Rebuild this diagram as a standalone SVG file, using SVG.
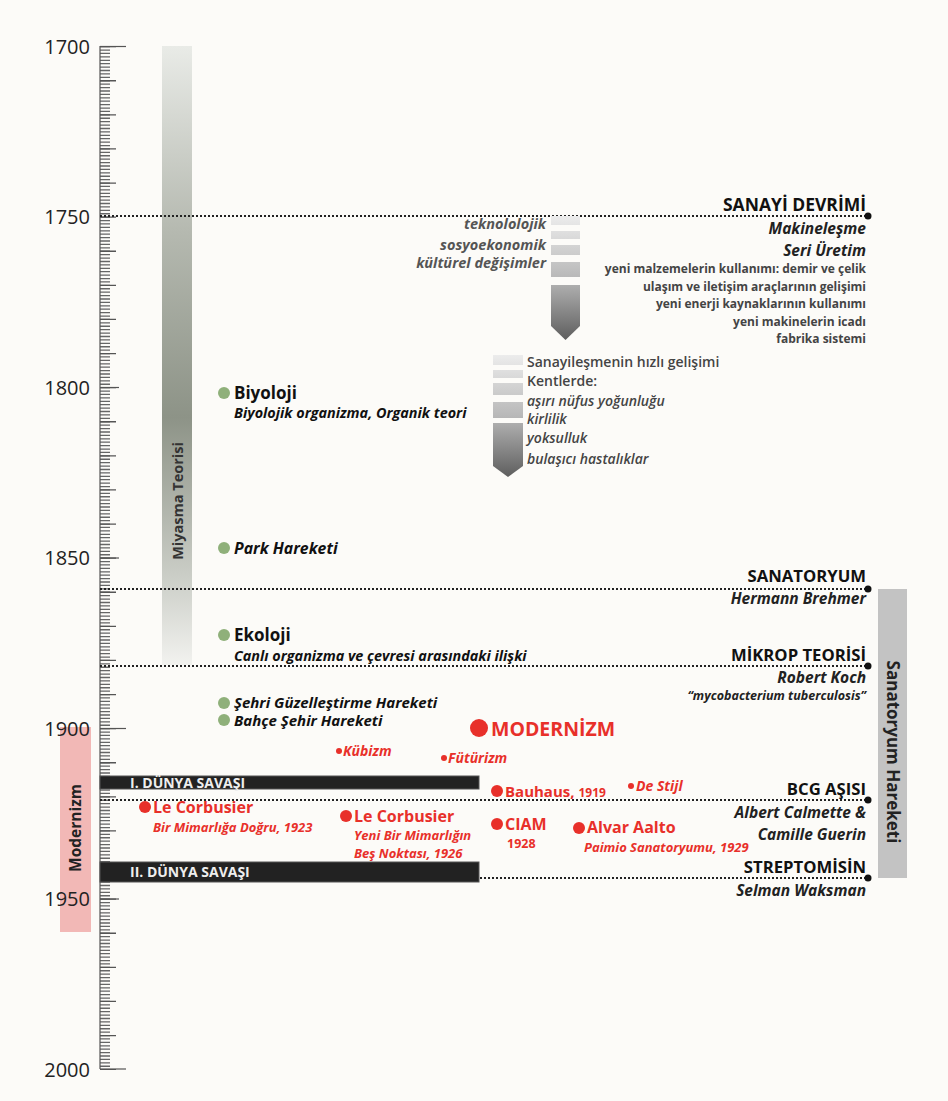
<svg xmlns="http://www.w3.org/2000/svg" width="948" height="1101" viewBox="0 0 948 1101">
<defs>
<style>
text{font-family:"Open Sans","Noto Sans","Liberation Sans",sans-serif;}
.yr{font-size:20px;fill:#222;text-anchor:end;}
.hd{font-size:16.7px;font-weight:700;fill:#111;text-anchor:end;}
.sub{font-size:15.5px;font-weight:700;font-style:italic;fill:#222;text-anchor:end;}
.myc{font-size:12.5px;font-weight:700;font-style:italic;fill:#222;text-anchor:end;}
.sm{font-size:12px;font-weight:700;fill:#444;text-anchor:end;}
.gl{font-size:14.5px;font-weight:700;font-style:italic;fill:#555;text-anchor:end;}
.ar{font-size:14px;font-weight:600;fill:#444;}
.ari{font-size:14px;font-weight:600;font-style:italic;fill:#444;}
.gh{font-size:17px;font-weight:700;fill:#111;}
.gi{font-size:14.4px;font-weight:700;font-style:italic;fill:#111;}
.gi2{font-size:15.8px;font-weight:700;font-style:italic;fill:#111;}
.gi3{font-size:15px;font-weight:700;font-style:italic;fill:#111;}
.rh{font-size:16px;font-weight:700;fill:#e8302a;}
.ri{font-size:13px;font-weight:700;font-style:italic;fill:#e8302a;}
.rs{font-size:14px;font-weight:700;font-style:italic;fill:#e8302a;}
.rn{font-size:12.5px;font-weight:700;fill:#e8302a;}
.war{font-size:14px;font-weight:700;fill:#eee;}
.dot{stroke:#222;stroke-width:2;stroke-dasharray:2 2;fill:none;}
.gd{fill:#8fb07a;}
.rd{fill:#e8302a;}
.bar{fill:#222;stroke:#555;stroke-width:1;}
</style>
<linearGradient id="miy" x1="0" y1="46" x2="0" y2="665" gradientUnits="userSpaceOnUse">
<stop offset="0" stop-color="#e9ebe7"/><stop offset="0.3" stop-color="#b5b9b0"/><stop offset="0.6" stop-color="#8d9387"/><stop offset="0.85" stop-color="#c9ccc5"/><stop offset="1" stop-color="#f2f2ef"/>
</linearGradient>
<linearGradient id="a1" x1="0" y1="216" x2="0" y2="340" gradientUnits="userSpaceOnUse">
<stop offset="0" stop-color="#ececec"/><stop offset="0.5" stop-color="#b8b8b8"/><stop offset="1" stop-color="#5e5e5e"/>
</linearGradient>
<linearGradient id="a2" x1="0" y1="355" x2="0" y2="477" gradientUnits="userSpaceOnUse">
<stop offset="0" stop-color="#ececec"/><stop offset="0.5" stop-color="#b8b8b8"/><stop offset="1" stop-color="#5e5e5e"/>
</linearGradient>
</defs>
<rect width="948" height="1101" fill="#fcfbf8"/>

<g id="miyasma">
<rect x="162" y="46" width="30" height="619" fill="url(#miy)"/>
<text x="0" y="0" transform="translate(183,501) rotate(-90)" text-anchor="middle" font-size="14.5" font-weight="700" fill="#333">Miyasma Teorisi</text>
</g>

<g id="modernizm-bar">
<rect x="60" y="727" width="31" height="205" fill="#f2b8b6"/>
<text x="0" y="0" transform="translate(81,828) rotate(-90)" text-anchor="middle" font-size="15.5" font-weight="700" fill="#222">Modernizm</text>
</g>

<g id="sanatoryum-bar">
<rect x="878" y="589" width="29" height="289" fill="#c3c3c3"/>
<text x="0" y="0" transform="translate(887,752) rotate(90)" text-anchor="middle" font-size="17" font-weight="700" fill="#222">Sanatoryum Hareketi</text>
</g>

<g id="axis">
<line x1="105" y1="46" x2="105" y2="1070" stroke="#666" stroke-width="10" stroke-dasharray="1.3 2.11"/>
<line x1="108" y1="46" x2="108" y2="1070" stroke="#555" stroke-width="16" stroke-dasharray="1.3 32.8"/>
<line x1="100" y1="46.5" x2="126" y2="46.5" stroke="#555" stroke-width="1.2"/>
<line x1="100" y1="1069" x2="126" y2="1069" stroke="#555" stroke-width="1.2"/>
<line x1="100" y1="728.5" x2="126" y2="728.5" stroke="#555" stroke-width="1.2"/>
<line x1="100" y1="899" x2="119" y2="899" stroke="#555" stroke-width="1.2"/>
<line x1="100" y1="387.5" x2="119" y2="387.5" stroke="#555" stroke-width="1.2"/>
<line x1="100" y1="558" x2="119" y2="558" stroke="#555" stroke-width="1.2"/>
<line x1="100" y1="46" x2="100" y2="1069" stroke="#555" stroke-width="1.2"/>
<text class="yr" x="90" y="54">1700</text>
<text class="yr" x="90" y="224">1750</text>
<text class="yr" x="90" y="395">1800</text>
<text class="yr" x="90" y="565">1850</text>
<text class="yr" x="90" y="736">1900</text>
<text class="yr" x="90" y="906">1950</text>
<text class="yr" x="90" y="1077">2000</text>
</g>

<g id="connectors">
<line class="dot" x1="100" y1="216" x2="866" y2="216"/>
<line class="dot" x1="100" y1="589" x2="866" y2="589"/>
<line class="dot" x1="100" y1="666" x2="866" y2="666"/>
<line class="dot" x1="100" y1="800" x2="866" y2="800"/>
<line class="dot" x1="100" y1="878" x2="866" y2="878"/>
<circle cx="868" cy="216" r="3.5" fill="#111"/>
<circle cx="868" cy="589" r="3.5" fill="#111"/>
<circle cx="868" cy="666" r="3.5" fill="#111"/>
<circle cx="868" cy="800" r="3.5" fill="#111"/>
<circle cx="868" cy="878" r="3.5" fill="#111"/>
</g>

<g id="ww1">
<rect class="bar" x="100" y="776" width="379" height="13"/>
<text class="war" x="130" y="788">I. DÜNYA SAVAŞI</text>
</g>
<g id="ww2">
<rect class="bar" x="100" y="862" width="379" height="20"/>
<text class="war" x="130" y="877">II. DÜNYA SAVAŞI</text>
</g>

<g id="sanayi-devrimi">
<text class="hd" x="866" y="211" style="font-size:17.5px">SANAYİ DEVRİMİ</text>
<text class="sub" x="866" y="234">Makineleşme</text>
<text class="sub" x="866" y="256">Seri Üretim</text>
<text class="sm" x="866" y="273">yeni malzemelerin kullanımı: demir ve çelik</text>
<text class="sm" x="866" y="291">ulaşım ve iletişim araçlarının gelişimi</text>
<text class="sm" x="866" y="308">yeni enerji kaynaklarının kullanımı</text>
<text class="sm" x="866" y="326">yeni makinelerin icadı</text>
<text class="sm" x="866" y="343">fabrika sistemi</text>
</g>

<g id="arrow1">
<rect x="551" y="216" width="29" height="9" fill="url(#a1)"/>
<rect x="551" y="231" width="29" height="8" fill="url(#a1)"/>
<rect x="551" y="245" width="29" height="10" fill="url(#a1)"/>
<rect x="551" y="262" width="29" height="15" fill="url(#a1)"/>
<polygon points="551,285 580,285 580,326 565.5,340 551,326" fill="url(#a1)"/>
<text class="gl" x="546" y="229">teknololojik</text>
<text class="gl" x="546" y="250">sosyoekonomik</text>
<text class="gl" x="546" y="268">kültürel değişimler</text>
</g>

<g id="arrow2">
<rect x="493" y="355" width="30" height="10" fill="url(#a2)"/>
<rect x="493" y="370" width="30" height="8" fill="url(#a2)"/>
<rect x="493" y="383" width="30" height="12" fill="url(#a2)"/>
<rect x="493" y="402" width="30" height="16" fill="url(#a2)"/>
<polygon points="493,423 523,423 523,466 508,477 493,466" fill="url(#a2)"/>
<text class="ar" x="527" y="367">Sanayileşmenin hızlı gelişimi</text>
<text class="ar" x="527" y="386">Kentlerde:</text>
<text class="ari" x="527" y="406">aşırı nüfus yoğunluğu</text>
<text class="ari" x="527" y="424">kirlilik</text>
<text class="ari" x="527" y="443">yoksulluk</text>
<text class="ari" x="527" y="464">bulaşıcı hastalıklar</text>
</g>

<g id="biyoloji">
<circle class="gd" cx="224" cy="393" r="6"/>
<text class="gh" x="234" y="399">Biyoloji</text>
<text class="gi" x="234" y="418">Biyolojik organizma, Organik teori</text>
</g>
<g id="park">
<circle class="gd" cx="224" cy="548" r="6"/>
<text class="gi2" x="234" y="554">Park Hareketi</text>
</g>
<g id="ekoloji">
<circle class="gd" cx="224" cy="635" r="6"/>
<text class="gh" x="234" y="641">Ekoloji</text>
<text class="gi" x="234" y="661">Canlı organizma ve çevresi arasındaki ilişki</text>
</g>
<g id="sehri">
<circle class="gd" cx="224" cy="703" r="6"/>
<text class="gi3" x="234" y="708">Şehri Güzelleştirme Hareketi</text>
</g>
<g id="bahce">
<circle class="gd" cx="224" cy="720" r="6"/>
<text class="gi3" x="234" y="726">Bahçe Şehir Hareketi</text>
</g>

<g id="sanatoryum">
<text class="hd" x="866" y="582">SANATORYUM</text>
<text class="sub" x="866" y="604">Hermann Brehmer</text>
</g>
<g id="mikrop">
<text class="hd" x="866" y="661">MİKROP TEORİSİ</text>
<text class="sub" x="866" y="683">Robert Koch</text>
<text class="myc" x="866" y="700">“mycobacterium tuberculosis”</text>
</g>
<g id="bcg">
<text class="hd" x="866" y="795">BCG AŞISI</text>
<text class="sub" x="866" y="818">Albert Calmette &amp;</text>
<text class="sub" x="866" y="840">Camille Guerin</text>
</g>
<g id="streptomisin">
<text class="hd" x="866" y="873">STREPTOMİSİN</text>
<text class="sub" x="866" y="896">Selman Waksman</text>
</g>

<g id="modernizm">
<circle class="rd" cx="479" cy="728" r="9"/>
<text x="491" y="736" font-size="19.5" font-weight="700" fill="#e8302a">MODERNİZM</text>
</g>
<g id="kubizm">
<circle class="rd" cx="339" cy="751" r="3"/>
<text class="rs" x="343" y="756">Kübizm</text>
</g>
<g id="futurizm">
<circle class="rd" cx="444" cy="758" r="3"/>
<text class="rs" x="448" y="763">Fütürizm</text>
</g>
<g id="bauhaus">
<circle class="rd" cx="497" cy="791" r="6"/>
<text x="505" y="797" font-size="15" font-weight="700" fill="#e8302a">Bauhaus, <tspan font-size="12">1919</tspan></text>
</g>
<g id="destijl">
<circle class="rd" cx="631" cy="786" r="3"/>
<text class="rs" x="636" y="791">De Stijl</text>
</g>
<g id="lecorbusier1">
<circle class="rd" cx="145" cy="807" r="6"/>
<text class="rh" x="153" y="813">Le Corbusier</text>
<text class="ri" x="153" y="832">Bir Mimarlığa Doğru, 1923</text>
</g>
<g id="lecorbusier2">
<circle class="rd" cx="346" cy="816" r="6"/>
<text class="rh" x="354" y="822">Le Corbusier</text>
<text class="ri" x="354" y="840">Yeni Bir Mimarlığın</text>
<text class="ri" x="354" y="858">Beş Noktası, 1926</text>
</g>
<g id="ciam">
<circle class="rd" cx="497" cy="824" r="6"/>
<text class="rh" x="505" y="830">CIAM</text>
<text class="rn" x="507" y="848">1928</text>
</g>
<g id="aalto">
<circle class="rd" cx="579" cy="828" r="6"/>
<text class="rh" x="587" y="833">Alvar Aalto</text>
<text class="ri" x="584" y="852">Paimio Sanatoryumu, 1929</text>
</g>
</svg>
